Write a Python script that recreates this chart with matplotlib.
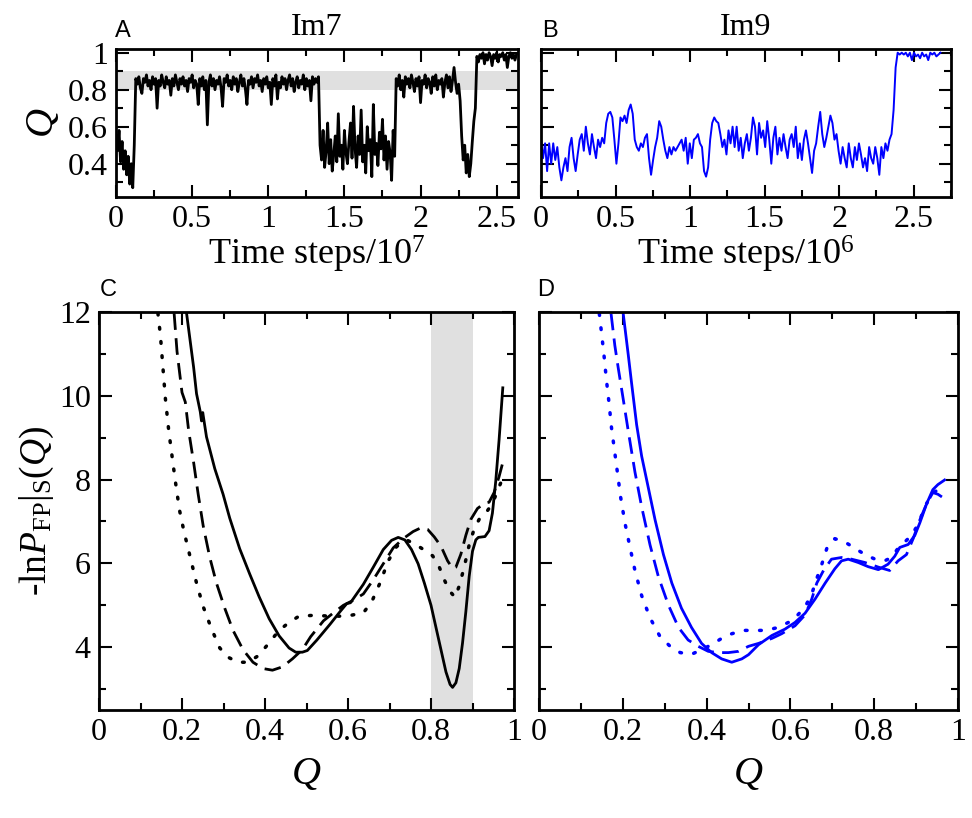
import numpy as np
import matplotlib
matplotlib.use("Agg")
import matplotlib.pyplot as plt
from matplotlib.ticker import MultipleLocator, FixedLocator, FixedFormatter

plt.rcParams['font.family'] = ['Liberation Serif', 'DejaVu Serif']
plt.rcParams['mathtext.fontset'] = 'custom'
plt.rcParams['mathtext.rm'] = 'Liberation Serif'
plt.rcParams['mathtext.it'] = 'Liberation Serif:italic'

# ---- data -------------------------------------------------------------
# Im7 trajectory, Q*100 read every 0.01 (x 10^7 steps)
im7_q = [
    55, 47, 58, 41, 52, 37, 47, 34, 44, 29, 40, 27, 50,
    86, 83, 87, 81, 78, 86, 84, 88, 82, 85,
    80, 87, 83, 86, 70, 85, 82, 88, 84, 81,
    87, 83, 85, 77, 86, 82, 88, 84, 80, 86,
    83, 87, 82, 85, 79, 86, 84, 88, 81, 85,
    83, 72, 86, 82, 87, 80, 85, 61, 84, 88,
    82, 86, 80, 85, 83, 87, 81, 71, 86, 84,
    88, 82, 85, 80, 87, 83, 86, 79, 84, 88,
    82, 86, 80, 72, 85, 83, 87, 81, 86, 84,
    88, 82, 85, 79, 86, 83, 87, 81, 84, 72,
    86, 82, 88, 75, 84, 81, 87, 83, 86, 80,
    85, 88, 82, 86, 79, 84, 87, 81, 85, 83,
    88, 80, 86, 82, 85, 74, 87, 83, 86, 84,
    87,
    50, 42, 58, 38, 47, 62, 40, 53, 36, 45,
    55, 41, 67, 44, 50, 37, 58, 46, 40, 52,
    62, 43, 71, 48, 38, 55, 45, 69, 41, 50,
    35, 60, 47, 53, 33, 72, 45, 51, 39, 57,
    48, 64, 42, 55, 37, 52, 46, 31, 58, 44,
    86, 82, 88, 80, 85, 76, 87, 83, 86, 81,
    88, 84, 79, 86, 82, 87, 73, 85, 83, 88,
    81, 86, 84, 78, 87, 82, 88, 80, 85, 83,
    86, 76, 84, 88, 81, 87, 79, 85, 92, 84,
    78, 83, 74,
    55, 42, 50, 35, 45, 33, 40, 52, 63, 70,
    98, 95, 99, 97, 100, 94, 99, 96, 100, 98, 93, 99, 97, 100,
    95, 99, 98, 100, 96, 99, 92, 98, 100, 97, 99, 96, 99,
]
im7_dt = 0.01

# Im9 trajectory, Q*100 read every ~0.0137 (x 10^6 steps)
im9_q = [
    53, 43, 51, 36, 51, 40, 51, 42, 49, 38,
    31, 38, 43, 36, 49, 54, 43, 36, 45, 53,
    56, 47, 60, 51, 45, 56, 49, 43, 53, 49,
    54, 51, 62, 67, 68, 65, 53, 40, 51, 65,
    63, 66, 62, 69, 72, 67, 53, 49, 47, 51,
    49, 54, 56, 43, 34, 42, 49, 54, 63, 60,
    53, 47, 43, 49, 45, 49, 47, 49, 51, 53,
    47, 54, 40, 51, 43, 53, 54, 56, 51, 49,
    36, 33, 38, 53, 62, 65, 63, 62, 56, 49,
    53, 45, 58, 51, 60, 49, 60, 47, 54, 43,
    51, 56, 47, 54, 65, 60, 45, 62, 54, 58,
    49, 63, 53, 40, 54, 60, 45, 54, 47, 56,
    49, 43, 53, 56, 49, 60, 43, 51, 42, 53,
    58, 51, 43, 35, 47, 51, 60, 68, 56, 49,
    54, 60, 66, 62, 53, 56, 47, 40, 49, 43,
    38, 51, 43, 38, 49, 42, 51, 45, 38, 43,
    36, 49, 43, 40, 49, 43, 34, 49, 43, 51,
    47, 53, 56, 69, 92, 100, 99, 100, 99, 100,
    98, 100, 96, 100, 98, 99, 97, 100, 98, 99,
    96, 100, 99, 100, 98, 99, 100,
]
im9_dt = 0.01367

# free energy profiles, Im7 (panel C)
c_solid_q = [0.211, 0.228, 0.235, 0.244, 0.247, 0.250, 0.259, 0.279, 0.299, 0.315,
             0.339, 0.363, 0.386, 0.410, 0.434, 0.458, 0.474, 0.490, 0.502, 0.525,
             0.557, 0.581, 0.597, 0.606, 0.613, 0.637, 0.661, 0.685, 0.705, 0.721,
             0.737, 0.753, 0.769, 0.784, 0.800, 0.812, 0.824, 0.836, 0.846, 0.852,
             0.860, 0.868, 0.876, 0.884, 0.892, 0.900, 0.908, 0.914, 0.930, 0.940,
             0.948, 0.956, 0.964, 0.973]
c_solid_f = [11.97, 10.68, 10.05, 9.62, 9.40, 9.60, 9.02, 8.26, 7.65, 7.08,
             6.35, 5.75, 5.20, 4.68, 4.27, 3.98, 3.88, 3.88, 3.92, 4.17,
             4.55, 4.85, 5.04, 5.06, 5.16, 5.50, 5.91, 6.33, 6.55, 6.62,
             6.56, 6.33, 5.99, 5.53, 5.00, 4.47, 3.94, 3.41, 3.11, 3.04,
             3.15, 3.49, 4.10, 4.85, 5.69, 6.29, 6.56, 6.62, 6.64, 6.78,
             7.20, 7.96, 8.94, 10.19]
c_dash_q = [0.181, 0.188, 0.200, 0.208, 0.216, 0.228, 0.239, 0.251, 0.267, 0.283,
            0.303, 0.323, 0.347, 0.371, 0.395, 0.418, 0.442, 0.466, 0.490, 0.510,
            0.541, 0.565, 0.589, 0.613, 0.637, 0.661, 0.685, 0.709, 0.733, 0.757,
            0.776, 0.792, 0.808, 0.824, 0.840, 0.852, 0.860, 0.872, 0.884, 0.896,
            0.912, 0.928, 0.940, 0.952, 0.964, 0.972]
c_dash_f = [11.97, 11.06, 10.08, 9.85, 9.17, 8.41, 7.65, 6.90, 6.14, 5.53,
            4.93, 4.40, 3.94, 3.64, 3.49, 3.45, 3.53, 3.72, 3.94, 4.25,
            4.63, 4.82, 5.00, 5.12, 5.27, 5.61, 5.99, 6.37, 6.59, 6.76,
            6.85, 6.81, 6.63, 6.41, 6.06, 5.88, 5.91, 6.22, 6.67, 7.05,
            7.31, 7.43, 7.46, 7.69, 8.07, 8.37]
c_dot_q = [0.142, 0.148, 0.154, 0.160, 0.168, 0.176, 0.184, 0.194, 0.205, 0.220,
           0.235, 0.251, 0.271, 0.291, 0.311, 0.335, 0.359, 0.383, 0.403, 0.434,
           0.458, 0.482, 0.518, 0.557, 0.597, 0.637, 0.657, 0.677, 0.697, 0.717,
           0.741, 0.765, 0.788, 0.804, 0.820, 0.832, 0.844, 0.858, 0.868, 0.880,
           0.892, 0.904, 0.916, 0.932, 0.948, 0.968]
c_dot_f = [11.97, 11.44, 10.68, 9.93, 9.17, 8.56, 7.96, 7.27, 6.75, 6.14,
           5.53, 4.97, 4.44, 3.98, 3.76, 3.64, 3.64, 3.79, 4.02, 4.40,
           4.59, 4.74, 4.76, 4.74, 4.74, 4.82, 5.08, 5.53, 6.06, 6.40,
           6.56, 6.44, 6.29, 6.18, 5.91, 5.61, 5.35, 5.19, 5.46, 5.91,
           6.44, 6.82, 7.05, 7.20, 7.43, 7.92]

# free energy profiles, Im9 (panel D)
d_solid_q = [0.201, 0.213, 0.221, 0.233, 0.245, 0.261, 0.277, 0.297, 0.317, 0.340,
             0.364, 0.388, 0.412, 0.436, 0.460, 0.484, 0.500, 0.524, 0.556, 0.587,
             0.611, 0.635, 0.659, 0.683, 0.706, 0.722, 0.738, 0.762, 0.786, 0.810,
             0.833, 0.849, 0.861, 0.881, 0.897, 0.909, 0.925, 0.940, 0.952, 0.968]
d_solid_f = [11.96, 10.98, 10.30, 9.31, 8.56, 7.80, 7.04, 6.21, 5.53, 4.93,
             4.47, 4.09, 3.87, 3.72, 3.64, 3.72, 3.82, 4.06, 4.28, 4.43,
             4.59, 4.81, 5.15, 5.53, 5.87, 6.06, 6.10, 6.02, 5.92, 5.85,
             5.98, 6.17, 6.38, 6.45, 6.67, 6.97, 7.42, 7.76, 7.88, 7.99]
d_dash_q = [0.172, 0.181, 0.189, 0.201, 0.213, 0.229, 0.245, 0.265, 0.285, 0.309,
            0.333, 0.356, 0.380, 0.404, 0.428, 0.452, 0.476, 0.500, 0.524, 0.556,
            0.579, 0.611, 0.635, 0.651, 0.663, 0.679, 0.698, 0.722, 0.746, 0.778,
            0.810, 0.837, 0.857, 0.877, 0.893, 0.909, 0.925, 0.940, 0.952, 0.964]
d_dash_f = [11.96, 11.20, 10.67, 9.92, 9.16, 8.18, 7.35, 6.44, 5.68, 5.00,
            4.47, 4.17, 4.02, 3.90, 3.87, 3.87, 3.90, 4.02, 4.09, 4.21,
            4.32, 4.51, 4.77, 5.15, 5.53, 5.83, 6.10, 6.14, 6.10, 6.02,
            5.91, 5.83, 6.06, 6.21, 6.59, 7.04, 7.42, 7.69, 7.65, 7.57]
d_dot_q = [0.144, 0.150, 0.155, 0.161, 0.167, 0.173, 0.180, 0.187, 0.195, 0.205,
           0.216, 0.229, 0.245, 0.265, 0.289, 0.313, 0.337, 0.364, 0.388, 0.412,
           0.436, 0.460, 0.488, 0.540, 0.571, 0.595, 0.615, 0.635, 0.651, 0.663,
           0.675, 0.687, 0.706, 0.730, 0.754, 0.778, 0.802, 0.825, 0.841, 0.857,
           0.873, 0.889, 0.905, 0.921, 0.937, 0.952, 0.964]
d_dot_f = [11.96, 11.43, 10.98, 10.37, 9.84, 9.24, 8.71, 8.18, 7.57, 6.97,
           6.44, 5.83, 5.23, 4.70, 4.25, 4.02, 3.87, 3.83, 3.94, 4.06,
           4.21, 4.32, 4.40, 4.40, 4.47, 4.59, 4.74, 4.96, 5.27, 5.64,
           5.98, 6.36, 6.59, 6.51, 6.36, 6.21, 6.10, 6.06, 6.14, 6.36,
           6.51, 6.67, 6.93, 7.35, 7.65, 7.76, 7.80]

band = (0.8, 0.9)
band_color = '#e0e0e0'

# ---- figure -----------------------------------------------------------
W, H = 972, 818
fig = plt.figure(figsize=(W / 100, H / 100), dpi=100)


def px_axes(left, top, right, bottom):
    return fig.add_axes([left / W, 1 - bottom / H, (right - left) / W, (bottom - top) / H])


def style(ax):
    for sp in ax.spines.values():
        sp.set_linewidth(2)
    ax.tick_params(which='both', direction='in', top=True, right=True, width=1.5,
                   labelsize=23, pad=6)
    ax.tick_params(which='major', length=9)
    ax.tick_params(which='minor', length=5)


axA = px_axes(116, 49, 518, 197)
axB = px_axes(541, 49, 951, 197)
axC = px_axes(99, 312, 514, 710)
axD = px_axes(539, 312, 958, 710)

# A
tA = np.arange(len(im7_q)) * im7_dt
axA.axhspan(band[0], band[1], color=band_color, lw=0, zorder=0)
axA.plot(tA, np.array(im7_q) / 100, color='black', lw=2.0)
axA.set_xlim(0, 2.64)
axA.set_ylim(0.22, 1.02)
axA.set_title('Im7', fontsize=23, pad=10)
axA.set_xlabel(r'Time steps/10$^7$', fontsize=26, labelpad=0)
axA.set_ylabel(r'$\mathit{Q}$', fontsize=29, labelpad=4)

# B
tB = np.arange(len(im9_q)) * im9_dt
axB.plot(tB, np.array(im9_q) / 100, color='#0000ff', lw=1.4)
axB.set_xlim(0, 2.75)
axB.set_ylim(0.22, 1.02)
axB.set_title('Im9', fontsize=23, pad=10)
axB.set_xlabel(r'Time steps/10$^6$', fontsize=26, labelpad=0)

for ax in (axA, axB):
    ax.xaxis.set_major_locator(FixedLocator([0, 0.5, 1, 1.5, 2, 2.5]))
    ax.xaxis.set_major_formatter(FixedFormatter(['0', '0.5', '1', '1.5', '2', '2.5']))
    ax.xaxis.set_minor_locator(MultipleLocator(0.25))
    ax.yaxis.set_major_locator(FixedLocator([0.4, 0.6, 0.8, 1.0]))
    ax.yaxis.set_major_formatter(FixedFormatter(['0.4', '0.6', '0.8', '1']))
    ax.yaxis.set_minor_locator(MultipleLocator(0.1))
    style(ax)
axB.tick_params(labelleft=False)

# C and D
axC.axvspan(band[0], band[1], color=band_color, lw=0, zorder=0)
for ax, col, data in (
        (axC, 'black', ((c_solid_q, c_solid_f), (c_dash_q, c_dash_f), (c_dot_q, c_dot_f))),
        (axD, '#0000ff', ((d_solid_q, d_solid_f), (d_dash_q, d_dash_f), (d_dot_q, d_dot_f)))):
    (sq, sf), (dq, df), (oq, of) = data
    ax.plot(sq, sf, color=col, lw=2.0, ls='-', solid_joinstyle='round')
    ax.plot(dq, df, color=col, lw=2.0, ls=(0, (6, 3)))
    ax.plot(oq, of, color=col, lw=2.5, ls=(0, (0.5, 3.6)), dash_capstyle='round')
    ax.set_xlim(0, 1)
    ax.set_ylim(2.5, 12)
    ax.xaxis.set_major_locator(FixedLocator([0, 0.2, 0.4, 0.6, 0.8, 1.0]))
    ax.xaxis.set_major_formatter(FixedFormatter(['0', '0.2', '0.4', '0.6', '0.8', '1']))
    ax.xaxis.set_minor_locator(MultipleLocator(0.1))
    ax.yaxis.set_major_locator(FixedLocator([4, 6, 8, 10, 12]))
    ax.yaxis.set_minor_locator(MultipleLocator(1))
    style(ax)
    ax.set_xlabel(r'$\mathit{Q}$', fontsize=29, labelpad=6)

axC.set_ylabel(r'-ln$\mathit{P}_{\rm FP}|_{\rm S}(\mathit{Q})$', fontsize=27, labelpad=2)
axD.tick_params(labelleft=False)

# panel letters
for lbl, x, y in (('A', 123, 31), ('B', 550, 31), ('C', 108, 290), ('D', 546, 290)):
    fig.text(x / W, 1 - y / H, lbl, fontsize=17, family='Liberation Sans',
             ha='center', va='center')

fig.savefig('out.png', dpi=100)
